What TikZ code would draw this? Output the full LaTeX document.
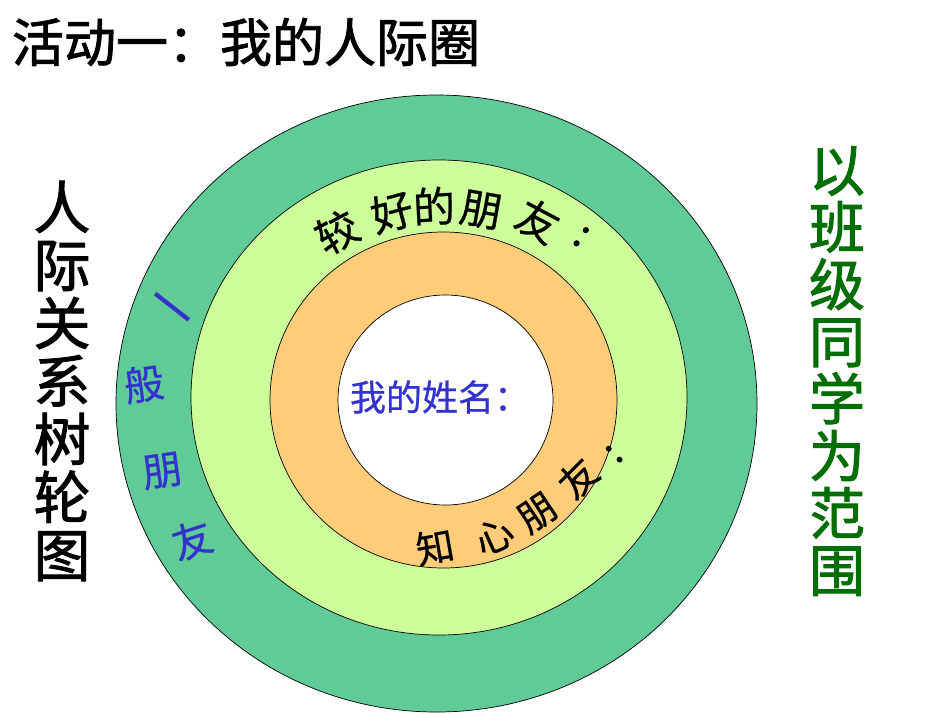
\documentclass[tikz,border=0pt]{standalone}
\usepackage{fontspec}
\newfontfamily\cjk{Noto Sans CJK SC}[FakeBold=0.6]
\newfontfamily\cjkbold{Noto Sans CJK SC}[FakeBold=1.6]
\definecolor{ringouter}{RGB}{96,203,150}
\definecolor{ringmid}{RGB}{204,255,153}
\definecolor{ringinner}{RGB}{255,204,122}
\definecolor{bluetext}{RGB}{51,51,204}
\definecolor{greentext}{RGB}{0,110,0}
\tikzset{
  ring/.style={draw=black, line width=0.7pt},
  ch/.style={inner sep=0pt, outer sep=0pt, font=\cjk\fontsize{#1}{#1}\selectfont},
  colon/.style={inner sep=0pt, outer sep=0pt, text height=20pt, text depth=0pt, font=\cjkbold\fontsize{#1}{#1}\selectfont},
  vert/.style={inner sep=0pt, align=center, font=\cjkbold\fontsize{57}{58}\selectfont}
}
\begin{document}
\begin{tikzpicture}[x=1pt,y=-1pt]
\useasboundingbox (0,0) rectangle (950,713);
\fill[white] (0,0) rectangle (950,713);
% rings
\filldraw[ring, fill=ringouter] (436.5,403.5) ellipse [x radius=320.5, y radius=308.5];
\filldraw[ring, fill=ringmid] (439,397.5) ellipse [x radius=248, y radius=237.5];
\filldraw[ring, fill=ringinner] (443.5,400) ellipse [x radius=173.5, y radius=168];
\filldraw[ring, fill=white] (445.5,400) ellipse [x radius=107.5, y radius=105];
% title
\node[inner sep=0pt, font=\cjkbold\fontsize{52}{52}\selectfont, anchor=center] (title) at (246,42) {活动一：我的人际圈};
% left vertical
\node[vert] (left) at (62,381) {人\\际\\关\\系\\树\\轮\\图};
% right vertical
\node[vert, text=greentext, font=\cjkbold\fontsize{56}{57.2}\selectfont] (right) at (837,371) {以\\班\\级\\同\\学\\为\\范\\围};
% name
\node[ch=36, text=bluetext, anchor=west] (name) at (350,397) {我的姓名：};
% top arc: 较 好的朋 友:
\node[ch=42, rotate=28] (t1) at (337,232) {较};
\node[ch=42, rotate=15] (t2) at (392,212) {好};
\node[ch=42, rotate=3] (t3) at (434,206) {的};
\node[ch=42, rotate=-10] (t4) at (481,210) {朋};
\node[ch=42, rotate=-28] (t5) at (538,221) {友};
\node[colon=40, rotate=-35] (t6) at (581,237) {:};
% bottom arc: 知 心朋 友:
\node[ch=38, rotate=10] (b1) at (435,547) {知};
\node[ch=38, rotate=24] (b2) at (494,536) {心};
\node[ch=38, rotate=34] (b3) at (537,513) {朋};
\node[ch=38, rotate=45] (b4) at (578,478) {友};
\node[colon=38, rotate=45] (b5) at (614,454) {:};
% left arc: 一 般 朋 友
\node[ch=46, text=bluetext, rotate=-38] (l1) at (167,313) {一};
\node[ch=40, text=bluetext, rotate=8] (l2) at (144,384) {般};
\node[ch=40, text=bluetext, rotate=8] (l3) at (162,471) {朋};
\node[ch=40, text=bluetext, rotate=18] (l4) at (192,540) {友};
\end{tikzpicture}
\end{document}
